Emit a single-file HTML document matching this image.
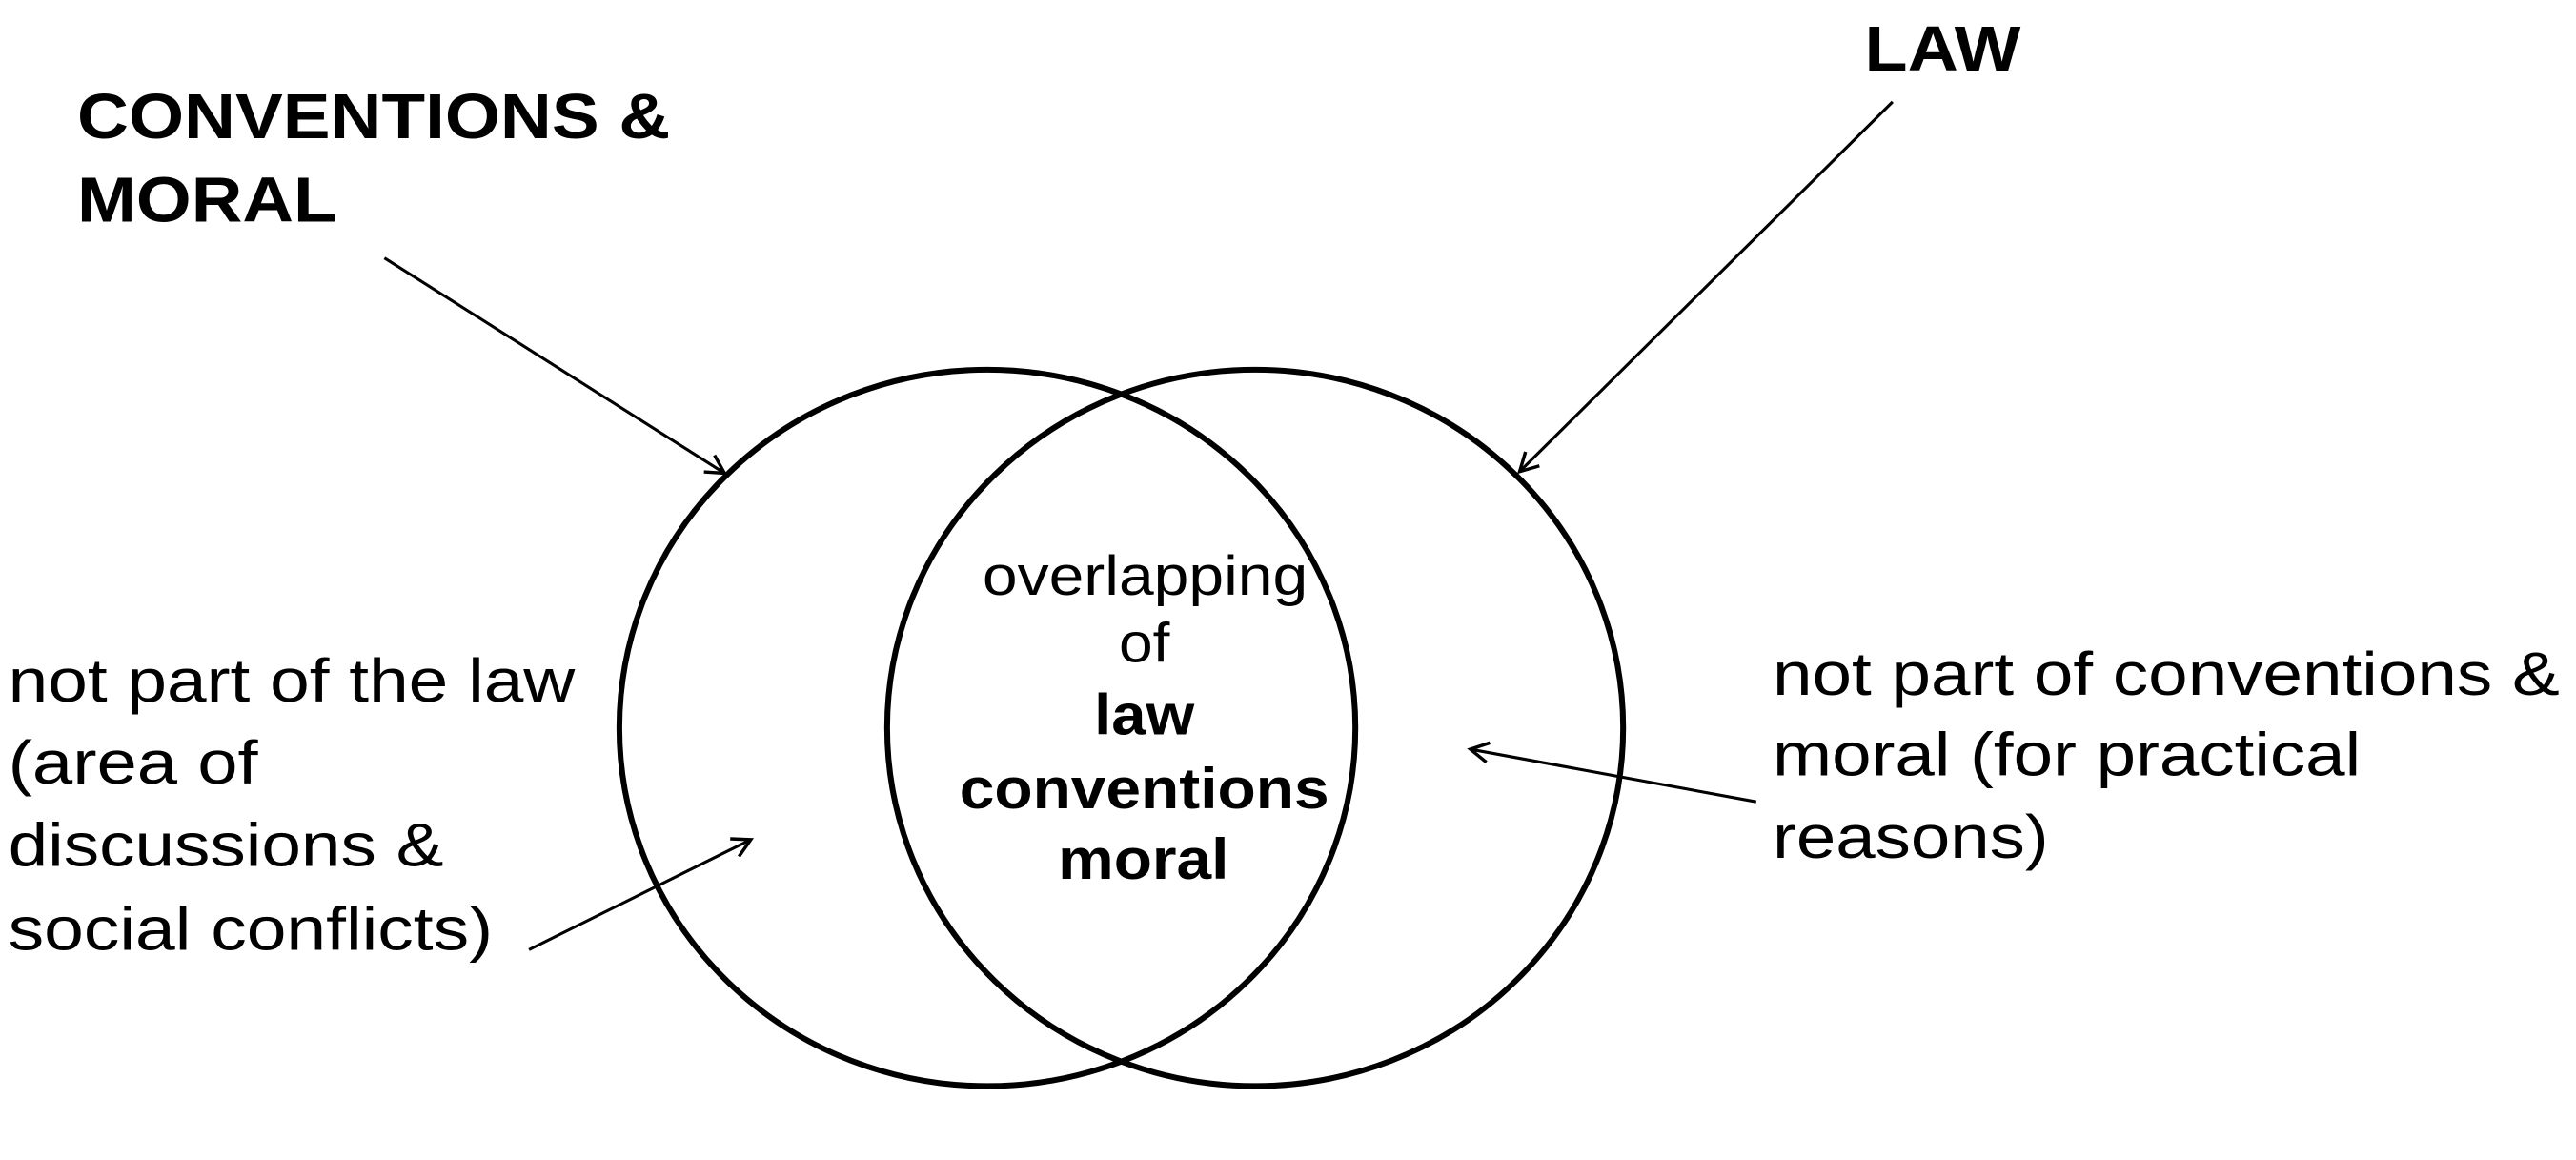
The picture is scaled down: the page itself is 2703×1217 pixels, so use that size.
<!DOCTYPE html>
<html><head><meta charset="utf-8"><style>
html,body{margin:0;padding:0;background:#fff;}
svg{display:block;}
text{font-family:"Liberation Sans",Arial,sans-serif;fill:#000;}
</style></head><body>
<svg width="2703" height="1217" viewBox="0 0 1568 706" preserveAspectRatio="none" xmlns="http://www.w3.org/2000/svg">
<defs><marker id="a" markerWidth="16" markerHeight="16" refX="12" refY="8" orient="auto" markerUnits="userSpaceOnUse"><path d="M1,2 L12,8 L1,14" fill="none" stroke="#000" stroke-width="2"/></marker></defs>
<ellipse cx="601" cy="443" rx="224" ry="218" fill="none" stroke="#000" stroke-width="3.5"/>
<ellipse cx="764" cy="443" rx="224" ry="218" fill="none" stroke="#000" stroke-width="3.5"/>
<g stroke="#000" stroke-width="1.8" fill="none" marker-end="url(#a)">
<line x1="234" y1="157" x2="441" y2="288"/>
<line x1="1152" y1="62" x2="925" y2="287"/>
<line x1="322" y1="578" x2="457" y2="511"/>
<line x1="1069" y1="488" x2="895" y2="456"/>
</g>
<g lengthAdjust="spacingAndGlyphs">
<text x="47" y="84" font-size="39" font-weight="bold" textLength="361" lengthAdjust="spacingAndGlyphs">CONVENTIONS &amp;</text>
<text x="47" y="135" font-size="39" font-weight="bold" textLength="158" lengthAdjust="spacingAndGlyphs">MORAL</text>
<text x="1135" y="43" font-size="39" font-weight="bold" textLength="95" lengthAdjust="spacingAndGlyphs">LAW</text>
<g font-size="37">
<text x="5" y="427" textLength="345" lengthAdjust="spacingAndGlyphs">not part of the law</text>
<text x="5" y="477" textLength="152" lengthAdjust="spacingAndGlyphs">(area of</text>
<text x="5" y="527" textLength="265" lengthAdjust="spacingAndGlyphs">discussions &amp;</text>
<text x="5" y="578" textLength="295" lengthAdjust="spacingAndGlyphs">social conflicts)</text>
<text x="1079" y="423" textLength="479" lengthAdjust="spacingAndGlyphs">not part of conventions &amp;</text>
<text x="1079" y="472" textLength="358" lengthAdjust="spacingAndGlyphs">moral (for practical</text>
<text x="1079" y="522" textLength="168" lengthAdjust="spacingAndGlyphs">reasons)</text>
</g>
<text x="598" y="362" font-size="34" textLength="198" lengthAdjust="spacingAndGlyphs">overlapping</text>
<text x="681" y="403" font-size="34" textLength="31" lengthAdjust="spacingAndGlyphs">of</text>
<text x="666" y="447" font-size="35" font-weight="bold" textLength="61" lengthAdjust="spacingAndGlyphs">law</text>
<text x="584" y="492" font-size="35" font-weight="bold" textLength="225" lengthAdjust="spacingAndGlyphs">conventions</text>
<text x="644" y="535" font-size="35" font-weight="bold" textLength="104" lengthAdjust="spacingAndGlyphs">moral</text>
</g>
</svg>
</body></html>
